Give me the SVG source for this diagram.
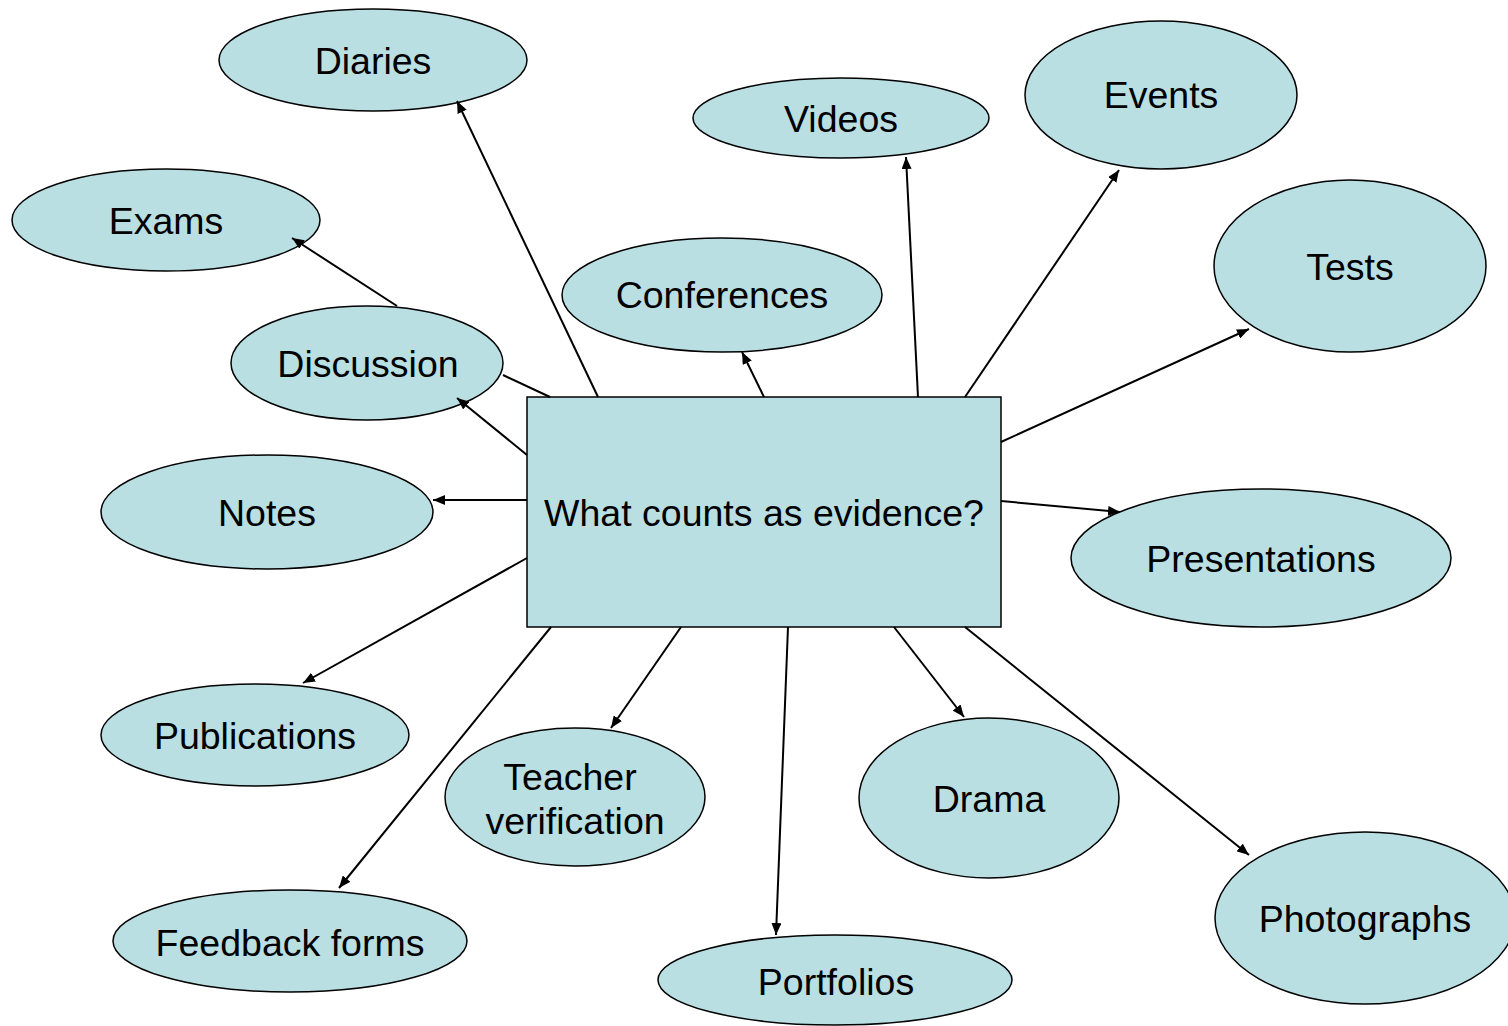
<svg xmlns="http://www.w3.org/2000/svg" width="1508" height="1026" viewBox="0 0 1508 1026">
  <style>
    .node { fill: #B9DFE3; stroke: #000; stroke-width: 1.5; }
    .lbl { font-family: "Liberation Sans", Arial, sans-serif; font-size: 37.5px; fill: #000; text-anchor: middle; }
    .edge { stroke: #000; stroke-width: 2; fill: none; }
    .arr { marker-end: url(#head); }
  </style>
  <defs>
    <marker id="head" viewBox="0 0 12 10" refX="12" refY="5" markerWidth="12" markerHeight="10" markerUnits="userSpaceOnUse" orient="auto">
      <path d="M0,0 L12,5 L0,10 Z" fill="#000"/>
    </marker>
  </defs>
  <rect width="1508" height="1026" fill="#fff"/>

  <g id="diaries"><ellipse class="node" cx="373" cy="60" rx="154" ry="51"/><text class="lbl" x="373" y="74">Diaries</text></g>
  <g id="exams"><ellipse class="node" cx="166" cy="220" rx="154" ry="51"/><text class="lbl" x="166" y="234">Exams</text></g>
  <g id="videos"><ellipse class="node" cx="841" cy="118" rx="148" ry="40"/><text class="lbl" x="841" y="132">Videos</text></g>
  <g id="events"><ellipse class="node" cx="1161" cy="95" rx="136" ry="74"/><text class="lbl" x="1161" y="108">Events</text></g>
  <g id="tests"><ellipse class="node" cx="1350" cy="266" rx="136" ry="86"/><text class="lbl" x="1350" y="280">Tests</text></g>
  <g id="conferences"><ellipse class="node" cx="722" cy="295" rx="160" ry="57"/><text class="lbl" x="722" y="308">Conferences</text></g>
  <g id="discussion"><ellipse class="node" cx="367" cy="363" rx="136" ry="57"/><text class="lbl" x="368" y="377">Discussion</text></g>
  <g id="notes"><ellipse class="node" cx="267" cy="512" rx="166" ry="57"/><text class="lbl" x="267" y="526">Notes</text></g>
  <g id="evidence"><rect class="node" x="527" y="397" width="474" height="230"/><text class="lbl" x="764" y="526">What counts as evidence?</text></g>
  <g id="presentations"><ellipse class="node" cx="1261" cy="558" rx="190" ry="69"/><text class="lbl" x="1261" y="572">Presentations</text></g>
  <g id="publications"><ellipse class="node" cx="255" cy="735" rx="154" ry="51"/><text class="lbl" x="255" y="749">Publications</text></g>
  <g id="teacher-verification"><ellipse class="node" cx="575" cy="797" rx="130" ry="69"/><text class="lbl" x="570" y="790">Teacher</text><text class="lbl" x="575" y="834">verification</text></g>
  <g id="drama"><ellipse class="node" cx="989" cy="798" rx="130" ry="80"/><text class="lbl" x="989" y="812">Drama</text></g>
  <g id="photographs"><ellipse class="node" cx="1365" cy="918" rx="150" ry="86"/><text class="lbl" x="1365" y="932">Photographs</text></g>
  <g id="feedback-forms"><ellipse class="node" cx="290" cy="941" rx="177" ry="51"/><text class="lbl" x="290" y="956">Feedback forms</text></g>
  <g id="portfolios"><ellipse class="node" cx="835" cy="980" rx="177" ry="45"/><text class="lbl" x="836" y="995">Portfolios</text></g>

  <!-- connectors are drawn last so their arrowheads sit over the ellipse edges -->
  <g id="connectors">
    <line class="edge arr" x1="598" y1="397" x2="457" y2="101"/>
    <line class="edge" x1="550" y1="397" x2="503" y2="375"/>
    <line class="edge arr" x1="397" y1="306" x2="292" y2="238"/>
    <line class="edge arr" x1="527" y1="455" x2="457" y2="398"/>
    <line class="edge arr" x1="527" y1="500" x2="433" y2="500"/>
    <line class="edge arr" x1="527" y1="558" x2="303" y2="683"/>
    <line class="edge arr" x1="551" y1="627" x2="339" y2="888"/>
    <line class="edge arr" x1="681" y1="627" x2="611" y2="728"/>
    <line class="edge arr" x1="788" y1="627" x2="776" y2="935"/>
    <line class="edge arr" x1="894" y1="627" x2="964" y2="717"/>
    <line class="edge arr" x1="965" y1="627" x2="1249" y2="855"/>
    <line class="edge arr" x1="1001" y1="501" x2="1120" y2="512"/>
    <line class="edge arr" x1="1001" y1="442" x2="1249" y2="329"/>
    <line class="edge arr" x1="965" y1="397" x2="1119" y2="170"/>
    <line class="edge arr" x1="918" y1="397" x2="906" y2="157"/>
    <line class="edge arr" x1="764" y1="397" x2="742" y2="352"/>
  </g>
</svg>
